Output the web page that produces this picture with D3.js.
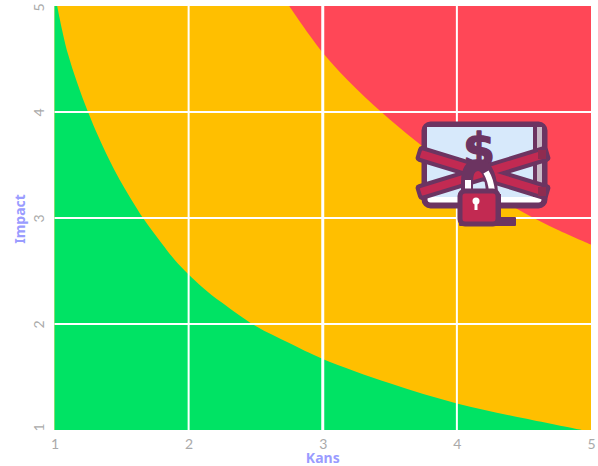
<!DOCTYPE html>
<html>
<head>
<meta charset="utf-8">
<script src="https://cdn.jsdelivr.net/npm/d3@7/dist/d3.min.js"></script>
<style>
html,body{margin:0;padding:0;background:#fff;}
svg{display:block;}
</style>
</head>
<body>
<svg id="chart" width="598" height="466"></svg>
<script>
// Axis ticks
const xTicks = [1, 2, 3, 4, 5];
const yTicks = [1, 2, 3, 4, 5];
const xTitle = "Kans";
const yTitle = "Impact";

// Upper edge of the low-risk zone, [kans, impact]
const greenEdge = [[1.02, 5], [1.1, 4.55], [1.25, 4], [1.4, 3.57], [1.5, 3.33], [1.66, 3], [1.8, 2.76], [1.9, 2.6], [2.1, 2.35], [2.25, 2.2],
  [2.5, 1.98], [2.75, 1.82], [3, 1.67], [3.5, 1.44], [4, 1.25], [4.5, 1.11], [4.93, 1]];
// Lower edge of the high-risk zone, [kans, impact]
const redEdge = [[2.75, 5], [3, 4.56], [3.25, 4.22], [3.5, 3.93], [3.75, 3.67], [4, 3.44], [4.25, 3.24], [4.5, 3.05], [4.75, 2.89], [5, 2.75]];

const colors = {green: "#00e364", amber: "#ffbf00", red: "#ff4757", grid: "#ffffff", tick: "#aaaaaa", title: "#9a9cff"};

const svg = d3.select("#chart");
const x = d3.scaleLinear().domain([1, 5]).range([54.5, 591]);
const y = d3.scaleLinear().domain([1, 5]).range([430, 6]);

const plot = svg.append("g");

// Base zone fills the plot, the other two are laid over it
plot.append("rect").attr("x", x(1)).attr("y", y(5)).attr("width", x(5) - x(1)).attr("height", y(1) - y(5)).attr("fill", colors.amber);

const curve = d3.curveCatmullRom;
const lowLine = d3.line().x(d => x(d[0])).y(d => y(d[1])).curve(curve);
plot.append("path").attr("fill", colors.green)
  .attr("d", lowLine(greenEdge) + `L${x(1)},${y(1)}L${x(1)},${y(5)}Z`);
const highArea = d3.area().x(d => x(d[0])).y0(y(5)).y1(d => y(d[1])).curve(curve);
plot.append("path").attr("fill", colors.red).attr("d", highArea(redEdge));

// Grid
const grid = svg.append("g").attr("stroke", colors.grid).attr("fill", "none");
grid.selectAll("line.v").data(xTicks.slice(1, -1)).join("line").attr("class", "v")
  .attr("x1", d => x(d)).attr("x2", d => x(d)).attr("y1", y(5)).attr("y2", y(1)).attr("stroke-width", d => d === 3 ? 3 : 2);
grid.selectAll("line.h").data(yTicks.slice(1, -1)).join("line").attr("class", "h")
  .attr("y1", d => y(d)).attr("y2", d => y(d)).attr("x1", x(1)).attr("x2", x(5)).attr("stroke-width", 2);

// Axes: labels only, no domain or tick marks
const xAxis = d3.axisBottom(x).tickValues(xTicks).tickSize(0).tickPadding(9).tickFormat(d3.format("d"));
const yAxis = d3.axisLeft(y).tickValues(yTicks).tickSize(0).tickFormat(d3.format("d"));
const gx = svg.append("g").attr("transform", `translate(0,${y(1)})`).call(xAxis);
const gy = svg.append("g").call(yAxis);
gx.select(".domain").remove();
gy.select(".domain").remove();
gx.selectAll("text").attr("font-family", "Lato, sans-serif").attr("font-size", 14).attr("fill", colors.tick);
gy.selectAll("text").attr("font-family", "Lato, sans-serif").attr("font-size", 14).attr("fill", colors.tick)
  .attr("text-anchor", "middle").attr("x", 0).attr("y", 0).attr("dy", 0)
  .attr("transform", d => `translate(44,${d === 1 ? -3 : d === 5 ? 1 : 0}) rotate(-90)`);

svg.append("text").attr("x", x(3)).attr("y", 463).attr("text-anchor", "middle")
  .attr("font-family", "'Liberation Sans Narrow', 'Noto Sans', sans-serif").attr("font-weight", 700).attr("font-size", 14)
  .attr("fill", colors.title).text(xTitle);
svg.append("text").attr("transform", "translate(25,219) rotate(-90)").attr("text-anchor", "middle")
  .attr("font-family", "'Liberation Sans Narrow', 'Noto Sans', sans-serif").attr("font-weight", 700).attr("font-size", 14)
  .attr("fill", colors.title).text(yTitle);

// Locked-funds pictogram
const plum = "#6c3461", crimson = "#c22a52", sky = "#d7e9fb";
const icon = svg.append("g").attr("stroke-linejoin", "round");
icon.append("rect").attr("x", 424.5).attr("y", 124.5).attr("width", 120).attr("height", 81).attr("rx", 6)
  .attr("fill", "#fff").attr("stroke", plum).attr("stroke-width", 6);
icon.append("rect").attr("x", 427).attr("y", 127).attr("width", 108).attr("height", 70).attr("fill", sky);
icon.append("rect").attr("x", 537).attr("y", 127).attr("width", 5).attr("height", 70).attr("fill", "#c9b9c6");
icon.append("rect").attr("x", 533).attr("y", 127).attr("width", 4).attr("height", 70).attr("fill", plum);
icon.append("text").attr("x", 479).attr("y", 166).attr("text-anchor", "middle")
  .attr("font-family", "DejaVu Sans, sans-serif").attr("font-weight", 700).attr("font-size", 46)
  .attr("fill", plum).attr("stroke", plum).attr("stroke-width", 1.5).text("$");

// Crossed straps: bars centred on the monitor, outline first so the crimson stays on top
const strapAngles = [17, -17];
const strapCentre = [483, 173];
const strapBar = (len, thick, rx, fill) => strapAngles.forEach(a => {
  icon.append("rect").attr("x", -len / 2).attr("y", -thick / 2).attr("width", len).attr("height", thick).attr("rx", rx)
    .attr("fill", fill).attr("transform", `translate(${strapCentre}) rotate(${a})`);
});
strapBar(138, 16, 4, plum);
strapBar(130, 8, 1, crimson);
icon.append("rect").attr("x", 538).attr("y", 150).attr("width", 8).attr("height", 9).attr("fill", "#8f2c50");
icon.append("rect").attr("x", 538).attr("y", 187).attr("width", 8).attr("height", 9).attr("fill", "#8f2c50");

// Padlock
icon.append("rect").attr("x", 459).attr("y", 217).attr("width", 57).attr("height", 9).attr("rx", 1).attr("fill", plum);
icon.append("path").attr("d", "M467 192 V182 Q467 165 478 165 Q490 165 492 192").attr("fill", "none").attr("stroke", plum).attr("stroke-width", 12);
icon.append("path").attr("d", "M468 192 V180 M486 172 Q491 180 492 192").attr("fill", "none").attr("stroke", "#fff").attr("stroke-width", 6);
icon.append("rect").attr("x", 460).attr("y", 191).attr("width", 38).attr("height", 33).attr("rx", 5)
  .attr("fill", crimson).attr("stroke", plum).attr("stroke-width", 5);
icon.append("rect").attr("x", 498).attr("y", 194).attr("width", 3).attr("height", 27).attr("fill", plum);
icon.append("circle").attr("cx", 476).attr("cy", 201).attr("r", 3.5).attr("fill", "#fff");
icon.append("rect").attr("x", 474.5).attr("y", 201).attr("width", 3).attr("height", 9).attr("fill", "#fff");
</script>
</body>
</html>
